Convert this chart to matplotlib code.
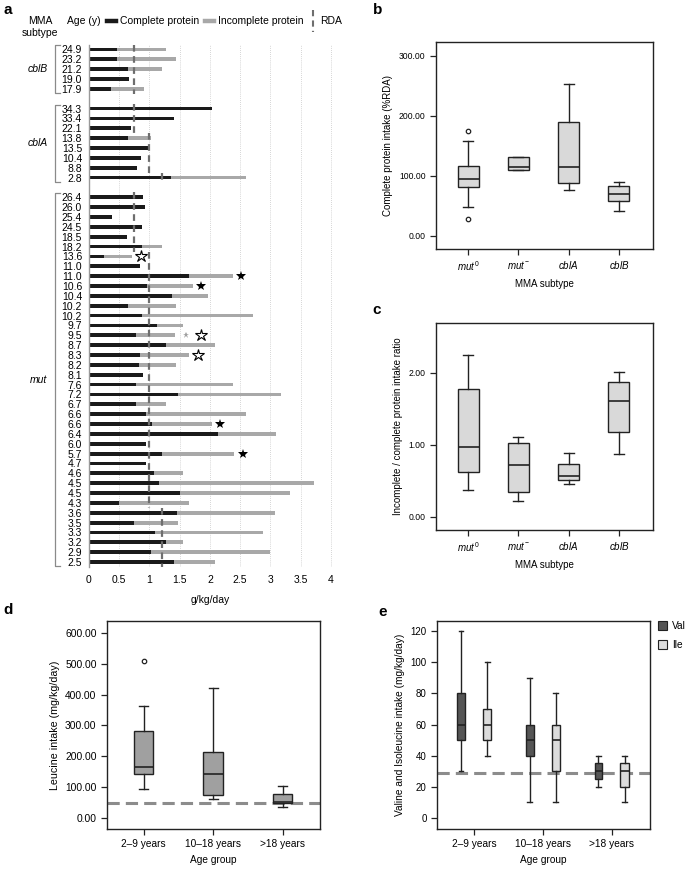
import matplotlib
matplotlib.use('Agg')
import matplotlib.pyplot as plt
from matplotlib.lines import Line2D
from matplotlib.patches import Patch
import matplotlib.transforms as mtransforms
import numpy as np

plt.rcParams['font.family'] = ['Liberation Sans', 'DejaVu Sans']
plt.rcParams['mathtext.fontset'] = 'custom'
plt.rcParams['mathtext.rm'] = 'Liberation Sans'
plt.rcParams['mathtext.it'] = 'Liberation Sans:italic'
plt.rcParams['mathtext.bf'] = 'Liberation Sans:bold'

# ---------------- Panel a data ----------------
ages_cblB = ["24.9", "23.2", "21.2", "19.0", "17.9"]
complete_cblB = [0.46, 0.47, 0.64, 0.66, 0.36]
incomplete_cblB = [0.82, 0.97, 0.56, 0.0, 0.55]
rda_cblB = [0.75, 0.75, 0.75, 0.75, 0.75]

ages_cblA = ["34.3", "33.4", "22.1", "13.8", "13.5", "10.4", "8.8", "2.8"]
complete_cblA = [2.03, 1.40, 0.69, 0.65, 1.01, 0.86, 0.80, 1.36]
incomplete_cblA = [0.0, 0.0, 0.0, 0.37, 0.0, 0.0, 0.0, 1.23]
rda_cblA = [0.75, 0.75, 0.75, 1.0, 1.0, 1.0, 1.0, 1.2]

ages_mut = ["26.4", "26.0", "25.4", "24.5", "18.5", "18.2", "13.6", "11.0", "11.0",
            "10.6", "10.4", "10.2", "10.2", "9.7", "9.5", "8.7", "8.3", "8.2", "8.1",
            "7.6", "7.2", "6.7", "6.6", "6.6", "6.4", "6.0", "5.7", "4.7", "4.6",
            "4.5", "4.5", "4.3", "3.6", "3.5", "3.3", "3.2", "2.9", "2.5"]
complete_mut = [0.89, 0.92, 0.38, 0.88, 0.63, 0.87, 0.25, 0.84, 1.65, 0.96, 1.38,
                0.64, 0.88, 1.12, 0.77, 1.28, 0.85, 0.82, 0.90, 0.77, 1.48, 0.78,
                0.95, 1.04, 2.14, 0.95, 1.20, 0.95, 1.08, 1.15, 1.51, 0.50, 1.46,
                0.75, 1.10, 1.27, 1.03, 1.40]
incomplete_mut = [0, 0, 0, 0, 0, 0.33, 0.46, 0, 0.74, 0.76, 0.59, 0.80, 1.83, 0.43,
                  0.66, 0.81, 0.80, 0.62, 0, 1.62, 1.70, 0.50, 1.65, 0.99, 0.96, 0,
                  1.20, 0, 0.47, 2.57, 1.81, 1.15, 1.62, 0.73, 1.78, 0.28, 1.96, 0.68]
rda_mut = [0.75] * 6 + [1.0] * 26 + [1.2] * 6

# stars in mut group: (row index within group, x value, kind)
star_rows = [6, 8, 9, 14, 14, 16, 23, 26]
star_x = [0.86, 2.51, 1.86, 1.61, 1.86, 1.81, 2.17, 2.54]
star_kind = ["open", "filled", "filled", "small", "open", "open", "filled", "filled"]

# ---------------- Panel b data ----------------
subtypes = [r"$mut^{0}$", r"$mut^{-}$", r"$cblA$", r"$cblB$"]
b_q1 = [82, 110, 88.5, 58]
b_med = [94, 115, 114, 70]
b_q3 = [117, 131, 189, 83]
b_lo = [48, 110, 77, 42]
b_hi = [158, 131, 253, 90]
b_fliers = [[174, 28], [], [], []]

# ---------------- Panel c data ----------------
c_q1 = [0.62, 0.34, 0.51, 1.17]
c_med = [0.97, 0.72, 0.57, 1.61]
c_q3 = [1.78, 1.03, 0.73, 1.875]
c_lo = [0.37, 0.22, 0.45, 0.87]
c_hi = [2.24, 1.11, 0.89, 2.01]

# ---------------- Panel d data ----------------
age_groups = ["2–9 years", "10–18 years", ">18 years"]
d_q1 = [142, 74, 48]
d_med = [164, 142, 52]
d_q3 = [283, 212, 78]
d_lo = [93, 62, 34]
d_hi = [362, 422, 103]
d_fliers = [[511], [], []]
d_ref = 47

# ---------------- Panel e data ----------------
val_q1 = [50, 40, 25]
val_med = [60, 50, 30]
val_q3 = [80, 60, 35]
val_lo = [30, 10, 20]
val_hi = [120, 90, 40]
ile_q1 = [50, 30, 20]
ile_med = [60, 50, 30]
ile_q3 = [70, 60, 35]
ile_lo = [40, 10, 10]
ile_hi = [100, 80, 40]
e_ref = 29

W, H = 685, 869
fig = plt.figure(figsize=(6.85, 8.69), dpi=100)


def rect(x0, y0, x1, y1):
    return [x0 / W, 1 - y1 / H, (x1 - x0) / W, (y1 - y0) / H]


def fx(x):
    return x / W


def fy(y):
    return 1 - y / H


BLACK = '#1a1a1a'
GRAY = '#a8a8a8'
RDA_C = '#6e6e6e'

# ================= Panel a =================
axa = fig.add_axes(rect(89, 45, 332, 567))
groups = [("cblB", ages_cblB, complete_cblB, incomplete_cblB, rda_cblB),
          ("cblA", ages_cblA, complete_cblA, incomplete_cblA, rda_cblA),
          ("mut", ages_mut, complete_mut, incomplete_mut, rda_mut)]
trans = mtransforms.blended_transform_factory(axa.transAxes, axa.transData)
pos = 0
yt, yl = [], []
mut_y = None
for name, ages, comp, inc, rda in groups:
    y = np.arange(pos, pos + len(ages))
    axa.barh(y, comp, height=0.38, color=BLACK, zorder=2)
    axa.barh(y, inc, left=comp, height=0.38, color=GRAY, zorder=2)
    start = 0
    for i in range(1, len(rda) + 1):
        if i == len(rda) or rda[i] != rda[start]:
            axa.vlines(rda[start], y[start] - 0.5, y[i - 1] + 0.5, colors=RDA_C,
                       linestyles=(0, (3, 2)), lw=1.6, zorder=3)
            start = i
    # bracket
    bx, bx2 = (55 - 89) / 243, (60 - 89) / 243
    axa.plot([bx2, bx, bx, bx2], [y[0] - 0.4, y[0] - 0.4, y[-1] + 0.4, y[-1] + 0.4],
             transform=trans, color='#8a8a8a', lw=0.9, clip_on=False)
    axa.text((38 - 89) / 243, (y[0] + y[-1]) / 2, name, transform=trans, ha='center',
             va='center', fontsize=7.5, style='italic')
    yt += list(y)
    yl += ages
    if name == "mut":
        mut_y = y
    pos += len(ages) + 1

for r, xv, k in zip(star_rows, star_x, star_kind):
    yy = mut_y[r]
    if k == "filled":
        axa.plot(xv, yy, marker='*', ms=7.5, color='black', mew=0, zorder=4, clip_on=False)
    elif k == "open":
        axa.plot(xv, yy, marker='*', ms=9, mfc='white', mec='black', mew=0.8, zorder=4, clip_on=False)
    else:
        axa.plot(xv, yy, marker='*', ms=5, color='#a0a0a0', mew=0, zorder=4, clip_on=False)

axa.set_yticks(yt)
axa.set_yticklabels(yl, fontsize=7.5)
axa.set_ylim(52.5, -0.45)
axa.set_xlim(0, 4.02)
axa.set_xticks(np.arange(0, 4.01, 0.5))
axa.set_xticklabels(["0", "0.5", "1", "1.5", "2", "2.5", "3", "3.5", "4"], fontsize=7.5)
axa.xaxis.grid(True, ls=(0, (1, 1.5)), color='#c8c8c8', lw=0.6)
axa.set_axisbelow(True)
for s in ['top', 'right', 'bottom']:
    axa.spines[s].set_visible(False)
axa.spines['left'].set_color('#999999')
axa.spines['left'].set_linewidth(1.0)
axa.tick_params(axis='both', length=0)
axa.tick_params(axis='y', pad=5)
axa.tick_params(axis='x', pad=6)
axa.set_xlabel("g/kg/day", fontsize=7.5, labelpad=7)

# legend for a
fig.text(fx(40), fy(21), "MMA", ha='center', va='center', fontsize=7.5)
fig.text(fx(40), fy(33), "subtype", ha='center', va='center', fontsize=7.5)
fig.text(fx(67), fy(21), "Age (y)", ha='left', va='center', fontsize=7.5)
fig.add_artist(Line2D([fx(107), fx(116)], [fy(21), fy(21)], lw=3.2, color=BLACK))
fig.text(fx(120), fy(21), "Complete protein", ha='left', va='center', fontsize=7.5)
fig.add_artist(Line2D([fx(205), fx(214)], [fy(21), fy(21)], lw=3.2, color=GRAY))
fig.text(fx(218), fy(21), "Incomplete protein", ha='left', va='center', fontsize=7.5)
fig.add_artist(Line2D([fx(313), fx(313)], [fy(10), fy(32)], lw=1.5, color=RDA_C,
                      ls=(0, (3, 2))))
fig.text(fx(320), fy(21), "RDA", ha='left', va='center', fontsize=7.5)


# ================= box helpers =================
def stats_list(q1, med, q3, lo, hi, fliers=None):
    out = []
    for i in range(len(q1)):
        out.append(dict(q1=q1[i], med=med[i], q3=q3[i], whislo=lo[i], whishi=hi[i],
                        fliers=(fliers[i] if fliers else [])))
    return out


def draw_box(ax, stats, positions, width, capw, face):
    ax.bxp(stats, positions=positions, widths=width, capwidths=capw, patch_artist=True,
           showfliers=True,
           boxprops=dict(facecolor=face, edgecolor='#222222', linewidth=1.0),
           medianprops=dict(color='#222222', linewidth=1.2),
           whiskerprops=dict(color='#222222', linewidth=1.0),
           capprops=dict(color='#222222', linewidth=1.0),
           flierprops=dict(marker='o', markersize=3.2, markerfacecolor='white',
                           markeredgecolor='#222222', markeredgewidth=0.9))


def style_box_ax(ax, ysize, xsize):
    for s in ax.spines.values():
        s.set_linewidth(1.0)
        s.set_color('#222222')
    ax.tick_params(axis='both', direction='out', length=4, width=0.9, color='#222222')
    ax.tick_params(axis='y', labelsize=ysize)
    ax.tick_params(axis='x', labelsize=xsize)


# ================= Panel b =================
axb = fig.add_axes(rect(436, 42, 653, 249))
draw_box(axb, stats_list(b_q1, b_med, b_q3, b_lo, b_hi, b_fliers), [1, 2, 3, 4], 0.42, 0.2, '#d9d9d9')
axb.set_xlim(0.36, 4.68)
axb.set_ylim(-22, 323)
axb.set_yticks([0, 100, 200, 300])
axb.set_yticklabels(["0.00", "100.00", "200.00", "300.00"])
axb.set_xticks([1, 2, 3, 4])
axb.set_xticklabels(subtypes)
style_box_ax(axb, 6.2, 7)
axb.set_ylabel("Complete protein intake (%RDA)", fontsize=7)
axb.set_xlabel("MMA subtype", fontsize=7)

# ================= Panel c =================
axc = fig.add_axes(rect(436, 323, 653, 530))
draw_box(axc, stats_list(c_q1, c_med, c_q3, c_lo, c_hi), [1, 2, 3, 4], 0.42, 0.2, '#d9d9d9')
axc.set_xlim(0.36, 4.68)
axc.set_ylim(-0.185, 2.69)
axc.set_yticks([0, 1, 2])
axc.set_yticklabels(["0.00", "1.00", "2.00"])
axc.set_xticks([1, 2, 3, 4])
axc.set_xticklabels(subtypes)
style_box_ax(axc, 6.2, 7)
axc.set_ylabel("Incomplete / complete protein intake ratio", fontsize=7)
axc.set_xlabel("MMA subtype", fontsize=7)

# ================= Panel d =================
axd = fig.add_axes(rect(107, 621, 320, 829))
axd.axhline(d_ref, color='#8c8c8c', lw=2.2, ls=(0, (4, 2)), zorder=1)
draw_box(axd, stats_list(d_q1, d_med, d_q3, d_lo, d_hi, d_fliers), [1, 2, 3], 0.28, 0.13, '#a0a0a0')
axd.set_xlim(0.47, 3.54)
axd.set_ylim(-37, 640)
axd.set_yticks([0, 100, 200, 300, 400, 500, 600])
axd.set_yticklabels(["0.00", "100.00", "200.00", "300.00", "400.00", "500.00", "600.00"])
axd.set_xticks([1, 2, 3])
axd.set_xticklabels(age_groups)
style_box_ax(axd, 7.4, 7.3)
axd.set_ylabel("Leucine intake (mg/kg/day)", fontsize=7.7)
axd.set_xlabel("Age group", fontsize=7.3)

# ================= Panel e =================
axe = fig.add_axes(rect(437, 621, 650, 829))
axe.axhline(e_ref, color='#8c8c8c', lw=2.2, ls=(0, (4, 2)), zorder=1)
xs = np.arange(1, 4)
draw_box(axe, stats_list(val_q1, val_med, val_q3, val_lo, val_hi), xs - 0.19, 0.11, 0.07, '#555555')
draw_box(axe, stats_list(ile_q1, ile_med, ile_q3, ile_lo, ile_hi), xs + 0.19, 0.12, 0.07, '#dcdcdc')
axe.set_xlim(0.46, 3.56)
axe.set_ylim(-7.3, 126.7)
axe.set_yticks([0, 20, 40, 60, 80, 100, 120])
axe.set_xticks(xs)
axe.set_xticklabels(age_groups)
style_box_ax(axe, 7, 7.3)
axe.set_ylabel("Valine and Isoleucine intake (mg/kg/day)", fontsize=7.3)
axe.set_xlabel("Age group", fontsize=7.3)
axe.legend(handles=[Patch(facecolor='#555555', edgecolor='#222222', lw=0.8, label='Val'),
                    Patch(facecolor='#dcdcdc', edgecolor='#222222', lw=0.8, label='Ile')],
           loc='upper left', bbox_to_anchor=(1.01, 1.03), frameon=False, fontsize=7.3,
           handlelength=0.9, handleheight=0.9, handletextpad=0.5, labelspacing=0.9,
           borderaxespad=0.2)

# panel letters
for lab, x, y in [("a", 3, 10), ("b", 373, 10), ("c", 372, 310), ("d", 3, 610), ("e", 378, 612)]:
    fig.text(fx(x), fy(y), lab, fontsize=11, fontweight='bold', ha='left', va='center')

fig.savefig("out.png", dpi=100)
